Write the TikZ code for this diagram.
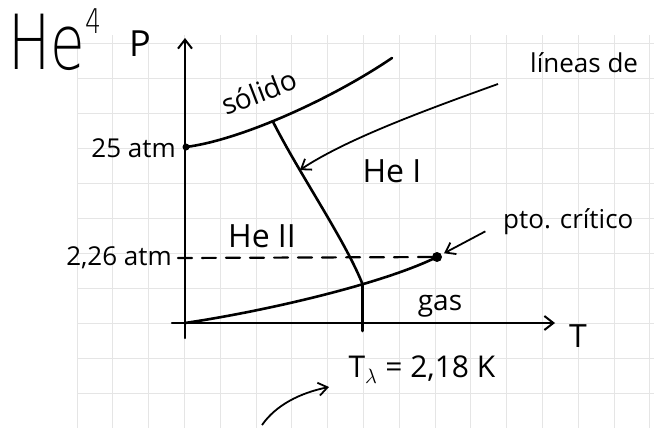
\documentclass[tikz,border=0pt]{standalone}
\usepackage{fontspec}
\setmainfont{Open Sans}
\newfontfamily\fina{DejaVu Sans ExtraLight}
\usetikzlibrary{arrows.meta}

\begin{document}
\begin{tikzpicture}[x=1pt,y=-1pt,
    cuadricula/.style={draw=gray!20, line width=0.8pt},
    eje/.style={line width=2.2pt, line cap=round},
    curva/.style={line width=2.6pt, line cap=round},
    punta/.style={-{Straight Barb[length=9pt,width=14pt,line width=2pt]}},
    flecha/.style={line width=1.8pt, -{Straight Barb[length=9pt,width=13pt,line width=1.8pt]}},
    rotulo/.style={inner sep=0pt, font=\fontsize{26}{30}\selectfont}
  ]
  \useasboundingbox (0,0) rectangle (654,428);
  \clip (0,0) rectangle (654,428);

  % papel cuadriculado
  \foreach \k in {0,...,16}
    \draw[cuadricula] ({77+35.8*\k},35) -- ({77+35.8*\k},428);
  \foreach \k in {0,...,11}
    \draw[cuadricula] (77,{43+35*\k}) -- (654,{43+35*\k});

  % rotulos
  \node[inner sep=0pt, xscale=0.74, anchor=base west, font=\fina\fontsize{76}{80}\selectfont] (he) at (8,70)
    {He\raisebox{36pt}{\fontsize{34}{36}\selectfont 4}};
  \node[rotulo, font=\fontsize{36}{40}\selectfont] (p) at (140,44) {P};
  \node[rotulo, font=\fontsize{32}{36}\selectfont] (t) at (578,336) {T};
  \node[rotulo, anchor=east] (p25) at (176,148) {25 atm};
  \node[rotulo, anchor=east] (p226) at (172,258) {2,26 atm};
  \node[rotulo, rotate=21, font=\fontsize{28}{32}\selectfont] (solido) at (259,92) {sólido};
  \node[rotulo, font=\fontsize{32}{36}\selectfont] (hei) at (392,171) {He I};
  \node[rotulo, font=\fontsize{32}{36}\selectfont] (heii) at (262,236) {He II};
  \node[rotulo, font=\fontsize{28}{32}\selectfont] (gas) at (440,306) {gas};
  \node[rotulo, anchor=west] (pto) at (503,222) {pto. crítico};
  \node[rotulo, anchor=west] (lineas) at (530,63) {líneas de};
  \node[rotulo, font=\fontsize{30}{34}\selectfont] (tlam) at (422,370) {T$_\lambda$ = 2,18 K};

  % ejes
  \coordinate (o) at (185,323);
  \draw[eje, punta] (185,338) -- (185,38);
  \draw[eje, punta] (172,323) -- (555,323);

  % curvas de coexistencia
  \coordinate (s25) at (186,147);
  \draw[curva] (s25) .. controls (240,140) and (330,100) .. coordinate[pos=0.44] (triple) (392,58);
  \coordinate (crit) at (437,257);
  \draw[curva] (o) .. controls (260,312) and (380,285) .. coordinate[pos=0.665] (lam) (crit);
  \draw[curva] (triple) .. controls (300,175) and (345,240) .. coordinate[pos=0.29] (lampt) (lam);
  \draw[curva] (lam) -- (lam |- 0,331);
  \fill (s25) circle (3.5);
  \fill (crit) circle (5);

  % presion critica
  \draw[eje, dash pattern=on 14pt off 10pt] (178,258) -- (crit);

  % flechas
  \draw[flecha, shorten <=20pt, shorten >=8pt] (pto.west) -- (crit);
  \coordinate (lini) at (498,84);
  \draw[flecha] (lini) .. controls (420,112) and (345,140) .. (lampt);
  \coordinate (ab1) at (262,425);
  \coordinate (ab2) at (329,387);
  \draw[flecha] (ab1) .. controls (276,405) and (300,393) .. (ab2);
\end{tikzpicture}
\end{document}
